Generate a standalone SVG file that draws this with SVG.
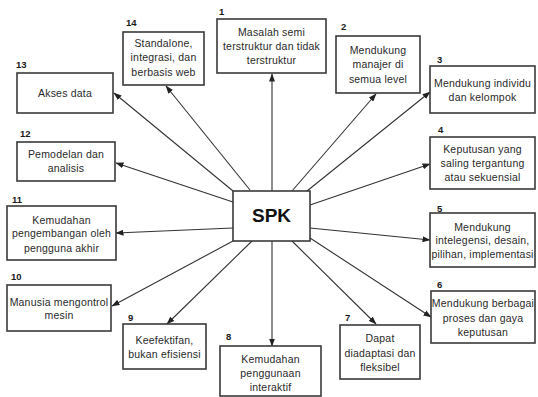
<svg xmlns="http://www.w3.org/2000/svg" width="538" height="397" viewBox="0 0 538 397">
<defs>
<marker id="ah" markerWidth="8" markerHeight="6" refX="7.5" refY="3" orient="auto" markerUnits="userSpaceOnUse">
<path d="M0,0 L8,3 L0,6 z" fill="#222"/>
</marker>
<style>
.box{fill:#fff;stroke:#3a3a3a;stroke-width:1.6}
.t{font-family:"Liberation Sans",Arial,sans-serif;font-size:10.5px;fill:#2a2a2a;text-anchor:middle;letter-spacing:0.2px}
.n{font-family:"Liberation Sans",Arial,sans-serif;font-size:9.5px;font-weight:bold;fill:#1a1a1a}
.c{stroke:#333;stroke-width:1.1;fill:none;marker-end:url(#ah)}
</style>
</defs>
<rect width="538" height="397" fill="#fff"/>
<g id="connectors">
<line class="c" x1="272" y1="191" x2="272" y2="74"/>
<line class="c" x1="292" y1="191" x2="376" y2="94"/>
<line class="c" x1="307" y1="191" x2="430" y2="92"/>
<line class="c" x1="310" y1="205" x2="430" y2="164"/>
<line class="c" x1="310" y1="228" x2="430" y2="240"/>
<line class="c" x1="310" y1="238" x2="431" y2="317"/>
<line class="c" x1="292" y1="241" x2="376" y2="324"/>
<line class="c" x1="272" y1="241" x2="272" y2="346"/>
<line class="c" x1="252" y1="241" x2="167" y2="324"/>
<line class="c" x1="233" y1="241" x2="112" y2="306"/>
<line class="c" x1="233" y1="228" x2="116" y2="233"/>
<line class="c" x1="233" y1="202" x2="116" y2="163"/>
<line class="c" x1="233" y1="191" x2="114" y2="93"/>
<line class="c" x1="250" y1="190" x2="166" y2="86"/>
</g>
<g id="spk">
<rect class="box" x="233" y="191" width="77" height="50"/>
<text x="271.5" y="222" font-family="Liberation Sans,Arial,sans-serif" font-size="19" font-weight="bold" text-anchor="middle" fill="#111">SPK</text>
</g>
<g id="n1">
<rect class="box" x="217" y="19" width="109" height="54"/>
<text class="n" x="219" y="15">1</text>
<text class="t" x="271.5" y="36">Masalah semi</text>
<text class="t" x="271.5" y="50">terstruktur dan tidak</text>
<text class="t" x="271.5" y="64">terstruktur</text>
</g>
<g id="n2">
<rect class="box" x="336" y="36" width="84" height="57"/>
<text class="n" x="341" y="30">2</text>
<text class="t" x="378" y="54">Mendukung</text>
<text class="t" x="378" y="68">manajer di</text>
<text class="t" x="378" y="83">semua level</text>
</g>
<g id="n3">
<rect class="box" x="430" y="66" width="105" height="47"/>
<text class="n" x="437" y="63">3</text>
<text class="t" x="482.5" y="87">Mendukung individu</text>
<text class="t" x="482.5" y="101">dan kelompok</text>
</g>
<g id="n4">
<rect class="box" x="430" y="137" width="105" height="52"/>
<text class="n" x="438" y="133">4</text>
<text class="t" x="482.5" y="153">Keputusan yang</text>
<text class="t" x="482.5" y="167">saling tergantung</text>
<text class="t" x="482.5" y="181">atau sekuensial</text>
</g>
<g id="n5">
<rect class="box" x="430" y="213" width="105" height="54"/>
<text class="n" x="437" y="212">5</text>
<text class="t" x="482.5" y="231">Mendukung</text>
<text class="t" x="482.5" y="244">intelegensi, desain,</text>
<text class="t" x="482.5" y="258">pilihan, implementasi</text>
</g>
<g id="n6">
<rect class="box" x="431" y="291" width="104" height="52"/>
<text class="n" x="437" y="288">6</text>
<text class="t" x="483" y="307">Mendukung berbagai</text>
<text class="t" x="483" y="322">proses dan gaya</text>
<text class="t" x="483" y="336">keputusan</text>
</g>
<g id="n7">
<rect class="box" x="340" y="325" width="80" height="54"/>
<text class="n" x="345" y="321">7</text>
<text class="t" x="380" y="342">Dapat</text>
<text class="t" x="380" y="357">diadaptasi dan</text>
<text class="t" x="380" y="371">fleksibel</text>
</g>
<g id="n8">
<rect class="box" x="220" y="346" width="101" height="50"/>
<text class="n" x="226" y="340">8</text>
<text class="t" x="270.5" y="363">Kemudahan</text>
<text class="t" x="270.5" y="377">penggunaan</text>
<text class="t" x="270.5" y="391">interaktif</text>
</g>
<g id="n9">
<rect class="box" x="123" y="324" width="83" height="45"/>
<text class="n" x="128" y="321">9</text>
<text class="t" x="164.5" y="344">Keefektifan,</text>
<text class="t" x="164.5" y="358">bukan efisiensi</text>
</g>
<g id="n10">
<rect class="box" x="7" y="285" width="104" height="46"/>
<text class="n" x="11" y="280">10</text>
<text class="t" x="59" y="306">Manusia mengontrol</text>
<text class="t" x="59" y="319">mesin</text>
</g>
<g id="n11">
<rect class="box" x="7" y="206" width="109" height="54"/>
<text class="n" x="12" y="203">11</text>
<text class="t" x="61.5" y="224">Kemudahan</text>
<text class="t" x="61.5" y="237">pengembangan oleh</text>
<text class="t" x="61.5" y="252">pengguna akhir</text>
</g>
<g id="n12">
<rect class="box" x="17" y="142" width="98" height="39"/>
<text class="n" x="20" y="137">12</text>
<text class="t" x="66" y="158">Pemodelan dan</text>
<text class="t" x="66" y="172">analisis</text>
</g>
<g id="n13">
<rect class="box" x="17" y="73" width="96" height="40"/>
<text class="n" x="16" y="68">13</text>
<text class="t" x="65" y="97">Akses data</text>
</g>
<g id="n14">
<rect class="box" x="123" y="32" width="81" height="53"/>
<text class="n" x="126" y="26">14</text>
<text class="t" x="163.5" y="47">Standalone,</text>
<text class="t" x="163.5" y="61">integrasi, dan</text>
<text class="t" x="163.5" y="76">berbasis web</text>
</g>
</svg>
